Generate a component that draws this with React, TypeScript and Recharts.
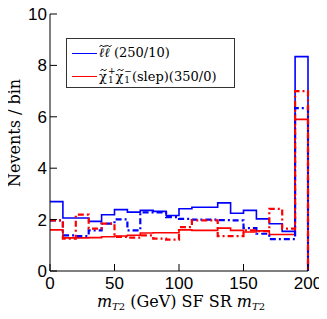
import React from "react";
import { LineChart, Line, XAxis, YAxis } from "recharts";

// bin edges in GeV (10 GeV bins, last edge closes the histogram)
const binEdges = [0, 10, 20, 30, 40, 50, 60, 70, 80, 90, 100, 110, 120, 130, 140, 150, 160, 170, 180, 190, 200];

// events per bin
const sleptonSolid = [2.7, 2.06, 2.06, 1.93, 2.19, 2.39, 2.29, 2.36, 2.32, 2.16, 2.42, 2.48, 2.48, 2.65, 2.25, 2.36, 2.03, 1.84, 1.54, 8.34];
const sleptonDash = [1.97, 1.39, 1.36, 1.58, 1.84, 2.01, 1.58, 2.28, 2.28, 2.1, 2.03, 2.0, 2.0, 1.98, 1.97, 1.67, 1.45, 1.24, 1.24, 6.34];
const charginoSolid = [1.6, 1.29, 1.29, 1.3, 1.33, 1.36, 1.39, 1.48, 1.49, 1.49, 1.6, 1.58, 1.58, 1.67, 1.58, 1.52, 1.56, 1.42, 1.42, 5.9];
const charginoDash = [1.97, 1.26, 2.19, 1.65, 1.84, 1.33, 1.3, 1.39, 1.26, 1.22, 1.71, 1.97, 1.97, 1.36, 1.36, 1.58, 1.55, 2.42, 1.65, 7.0];

const xTicks = [0, 50, 100, 150, 200];
const yTicks = [0, 2, 4, 6, 8, 10];

const BLUE = "#0000ff";
const RED = "#ff0000";
const tickFont = "'Liberation Sans', Arial, sans-serif";
const mathFont = "'DejaVu Serif', serif";

// histogram closes back to zero at the last edge
const data = binEdges.map((x, i) => ({
  x,
  sSolid: i < sleptonSolid.length ? sleptonSolid[i] : 0,
  sDash: i < sleptonDash.length ? sleptonDash[i] : 0,
  cSolid: i < charginoSolid.length ? charginoSolid[i] : 0,
  cDash: i < charginoDash.length ? charginoDash[i] : 0,
}));

const blank = () => "";

// letter with a tilde drawn above it
function Tilde({ children, w = 8 }: { children: React.ReactNode; w?: number }) {
  return (
    <span style={{ position: "relative", display: "inline-block" }}>
      <svg
        width={w}
        height={4}
        style={{ position: "absolute", left: "50%", top: -1, marginLeft: -w / 2 + 1, overflow: "visible" }}
      >
        <path d={`M0.5 3 Q${w * 0.25} 0 ${w * 0.5} 2 T${w - 0.5} 1`} fill="none" stroke="#000" strokeWidth={0.9} />
      </svg>
      {children}
    </span>
  );
}

function SubSup({ sup }: { sup: string }) {
  return (
    <span
      style={{
        display: "inline-flex",
        flexDirection: "column",
        fontSize: 9,
        lineHeight: "9px",
        verticalAlign: "middle",
        marginLeft: 1,
      }}
    >
      <span>{sup}</span>
      <span>1</span>
    </span>
  );
}

export default function App() {
  return (
    <div style={{ position: "relative", width: 327, height: 319, margin: -8, background: "#fff" }}>
      <LineChart
        width={327}
        height={319}
        data={data}
        margin={{ top: 14, right: 19, left: 0, bottom: 0 }}
      >
        <XAxis
          dataKey="x"
          type="number"
          domain={[0, 200]}
          ticks={xTicks}
          height={48}
          stroke="#000"
          tickSize={-7}
          tickMargin={13}
          tick={{ fill: "#000", fontSize: 17, fontFamily: tickFont }}
          interval={0}
        />
        <XAxis
          xAxisId="top"
          orientation="top"
          type="number"
          domain={[0, 200]}
          ticks={xTicks}
          height={0}
          stroke="#000"
          tickSize={-7}
          tickFormatter={blank}
        />
        <YAxis
          type="number"
          domain={[0, 10]}
          ticks={yTicks}
          width={50}
          stroke="#000"
          tickSize={-7}
          tickMargin={10}
          tick={{ fill: "#000", fontSize: 17, fontFamily: tickFont }}
          interval={0}
        />
        <YAxis
          yAxisId="right"
          orientation="right"
          type="number"
          domain={[0, 10]}
          ticks={yTicks}
          width={0}
          stroke="#000"
          tickSize={-7}
          tickFormatter={blank}
        />
        <Line type="stepAfter" dataKey="sSolid" stroke={BLUE} strokeWidth={1.6} dot={false} isAnimationActive={false} />
        <Line type="stepAfter" dataKey="cSolid" stroke={RED} strokeWidth={1.6} dot={false} isAnimationActive={false} />
        <Line type="stepAfter" dataKey="sDash" stroke={BLUE} strokeWidth={2.2} strokeDasharray="6 3 2 3" dot={false} isAnimationActive={false} />
        <Line type="stepAfter" dataKey="cDash" stroke={RED} strokeWidth={2.2} strokeDasharray="6 3 2 3" dot={false} isAnimationActive={false} />
      </LineChart>

      {/* legend */}
      <div
        style={{
          position: "absolute",
          left: 66,
          top: 38,
          width: 169,
          height: 50,
          border: "1px solid #333",
          background: "#fff",
          fontFamily: mathFont,
          fontSize: 13,
          color: "#000",
          boxSizing: "border-box",
        }}
      >
        <div style={{ position: "absolute", left: 5, top: 6, display: "flex", alignItems: "center", whiteSpace: "nowrap" }}>
          <span style={{ display: "inline-block", width: 25, height: 0, borderTop: `1.6px solid ${BLUE}`, marginRight: 2 }} />
          <span>
            <Tilde w={7}><i>ℓ</i></Tilde>
            <Tilde w={7}><i>ℓ</i></Tilde> (250/10)
          </span>
        </div>
        <div style={{ position: "absolute", left: 5, top: 28, display: "flex", alignItems: "center", whiteSpace: "nowrap" }}>
          <span style={{ display: "inline-block", width: 25, height: 0, borderTop: `1.6px solid ${RED}`, marginRight: 2 }} />
          <span style={{ display: "inline-flex", alignItems: "center" }}>
            <Tilde w={7}>χ</Tilde>
            <SubSup sup="+" />
            <Tilde w={7}>χ</Tilde>
            <SubSup sup="−" />
            <span>(slep)(350/0)</span>
          </span>
        </div>
      </div>

      {/* axis titles */}
      <div
        style={{
          position: "absolute",
          left: 14,
          top: 133,
          transform: "translate(-50%, -50%) rotate(-90deg)",
          fontFamily: mathFont,
          fontSize: 16,
          whiteSpace: "nowrap",
          color: "#000",
        }}
      >
        Nevents / bin
      </div>
      <div
        style={{
          position: "absolute",
          left: 181,
          top: 294,
          transform: "translateX(-50%)",
          fontFamily: mathFont,
          fontSize: 16,
          lineHeight: "16px",
          whiteSpace: "nowrap",
          color: "#000",
        }}
      >
        <i>m</i>
        <span style={{ fontSize: 10, lineHeight: "10px", position: "relative", top: 3 }}><i>T</i>2</span> (GeV) SF SR <i>m</i>
        <span style={{ fontSize: 10, lineHeight: "10px", position: "relative", top: 3 }}><i>T</i>2</span>
      </div>
    </div>
  );
}
